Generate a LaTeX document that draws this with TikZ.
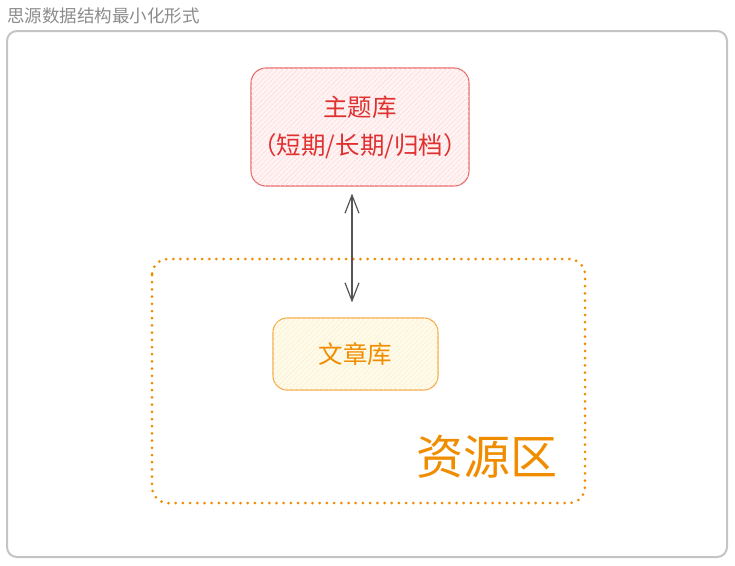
\documentclass[tikz,border=0pt]{standalone}
\usepackage{fontspec}
\setmainfont{Noto Sans CJK SC}
\usetikzlibrary{arrows.meta,patterns.meta}
\definecolor{framegray}{HTML}{C4C4C4}
\definecolor{titlegray}{HTML}{8C8C8C}
\definecolor{redline}{HTML}{E8696A}
\definecolor{redtext}{HTML}{E03131}
\definecolor{redfill}{HTML}{FFF3F3}
\definecolor{redhatch}{HTML}{FDD8D8}
\definecolor{orangeline}{HTML}{F08C00}
\definecolor{orangebox}{HTML}{F5AA4A}
\definecolor{yellowfill}{HTML}{FFFBEB}
\definecolor{yellowhatch}{HTML}{FCEDC4}
\definecolor{arrowgray}{HTML}{555555}
\begin{document}
\begin{tikzpicture}[x=1pt,y=-1pt,
  frame/.style={draw=framegray,line width=2pt,rounded corners=10pt},
  zonebox/.style={draw=orangeline,line width=3pt,line cap=round,dash pattern=on 0pt off 7.2pt,rounded corners=16pt},
  topicbox/.style={draw=redline,line width=1.1pt,rounded corners=15pt,fill=redfill,
    postaction={pattern={Lines[angle=45,distance=3.5pt,line width=0.4pt]},pattern color=redhatch},
    minimum width=218pt,minimum height=118pt,inner sep=0pt,text=redtext,
    font=\fontsize{24.5}{38}\selectfont,align=center},
  articlebox/.style={draw=orangebox,line width=1.1pt,rounded corners=14pt,fill=yellowfill,
    postaction={pattern={Lines[angle=45,distance=3.5pt,line width=0.4pt]},pattern color=yellowhatch},
    minimum width=165pt,minimum height=72pt,inner sep=0pt,text=orangeline,
    font=\fontsize{24.5}{28}\selectfont},
  link/.style={draw=arrowgray,line width=1.2pt,{Straight Barb[length=18pt,width=14pt]}-{Straight Barb[length=18pt,width=14pt]}}
]
\useasboundingbox (0,0) rectangle (735,565);
\node[anchor=west,text=titlegray,font=\fontsize{17.5}{20}\selectfont,inner sep=0pt] (title) at (7,16) {思源数据结构最小化形式};
\draw[frame] (7,31) rectangle (727,557);
\draw[zonebox] (152,259) rectangle (585,503);
\node[topicbox] (topic) at (360,127) {主题库\\（短期/长期/归档）};
\node[articlebox] (article) at (355.5,354) {文章库};
\node[text=orangeline,font=\fontsize{47}{50}\selectfont,inner sep=0pt] (zone) at (487,457) {资源区};
\draw[link,shorten <=7pt,shorten >=15pt] (topic.south -| 352,0) -- (article.north -| 352,0);
\end{tikzpicture}
\end{document}
